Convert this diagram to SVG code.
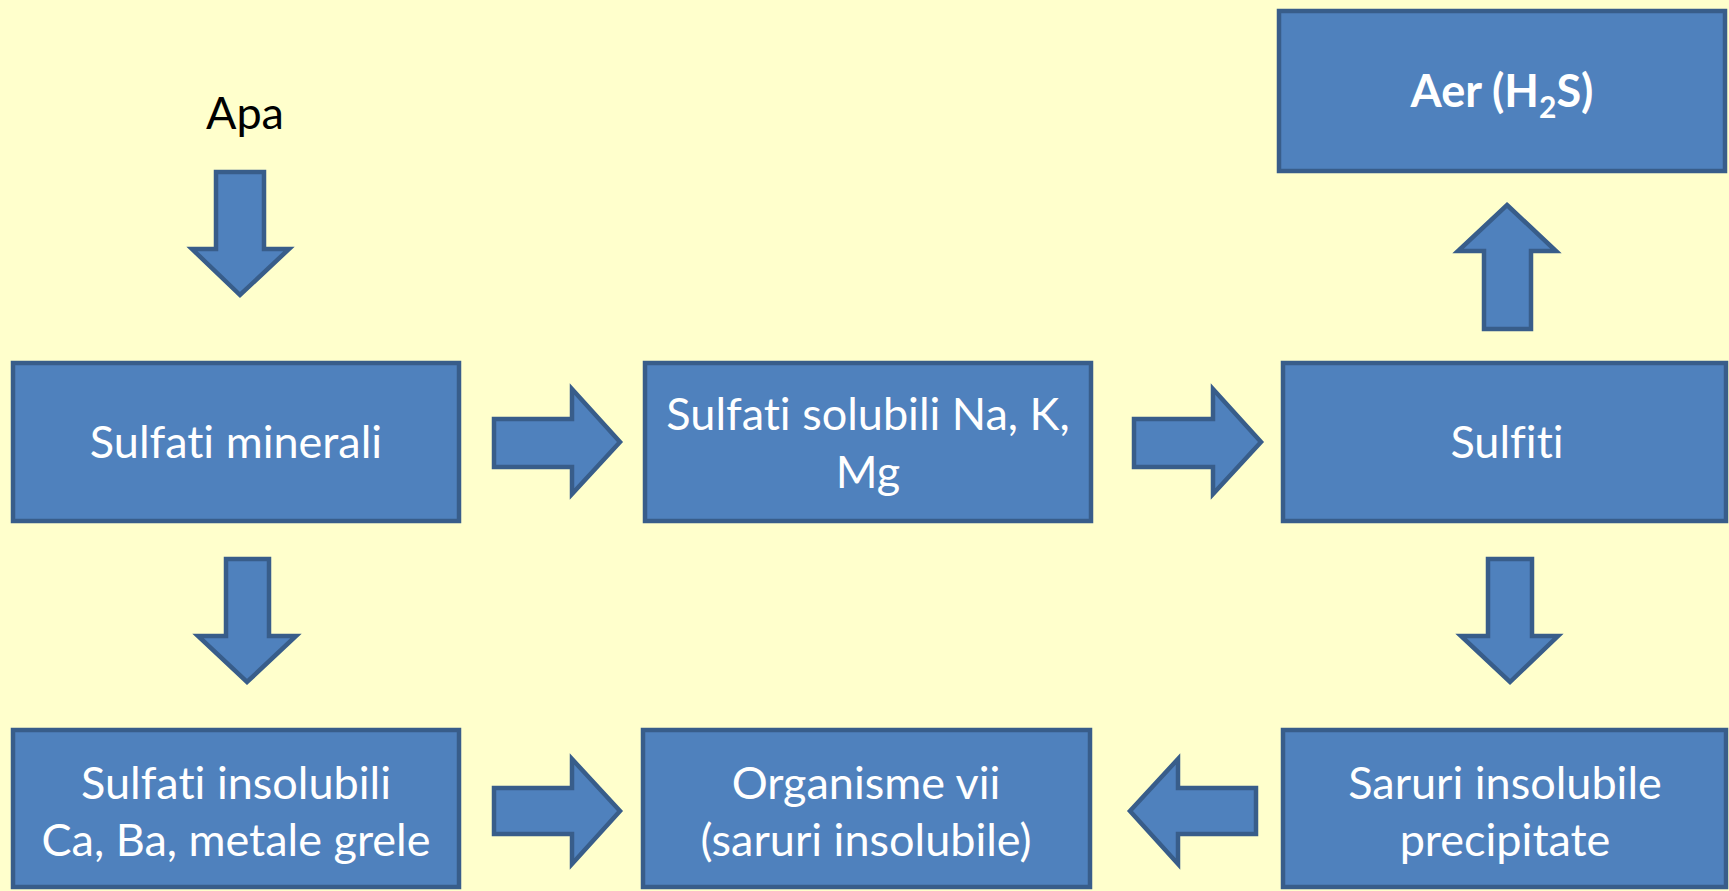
<svg xmlns="http://www.w3.org/2000/svg" width="1729" height="891" viewBox="0 0 1729 891">
<style>
.box{fill:#4F81BD;stroke:#385D8A;stroke-width:4.5}
.arr{fill:#4F81BD;stroke:#385D8A;stroke-width:4.5;stroke-linejoin:miter}
.t{font-family:Lato,"Open Sans","Liberation Sans",sans-serif;font-size:45px;fill:#FFFFFF;text-anchor:middle;font-variant-ligatures:none}
.b{font-weight:bold}
.k{font-family:Lato,"Open Sans","Liberation Sans",sans-serif;font-size:45px;fill:#000000;text-anchor:middle}
</style>
<rect x="0" y="0" width="1729" height="891" fill="#FFFFCC"/>
<g id="connectors">
<polygon class="arr" points="216,172 264,172 264,249 289,249 240,295 192,249 216,249"/>
<polygon class="arr" points="226,559 269,559 269,636 296,636 247,682 198,636 226,636"/>
<polygon class="arr" points="1488,559 1532,559 1532,636 1558,636 1510,682 1461,636 1488,636"/>
<polygon class="arr" points="1507,205 1556,251 1531,251 1531,329 1484,329 1484,251 1458,251"/>
<polygon class="arr" points="494,419 572,419 572,389 620,442 572,494 572,467 494,467"/>
<polygon class="arr" points="1134,419 1213,419 1213,389 1261,442 1213,494 1213,467 1134,467"/>
<polygon class="arr" points="494,788 572,788 572,759 620,811 572,864 572,834 494,834"/>
<polygon class="arr" points="1256,788 1178,788 1178,759 1130,811 1178,864 1178,834 1256,834"/>
</g>
<g id="apa"><text class="k" x="245" y="129">Apa</text></g>
<g id="aer">
<rect class="box" x="1279" y="11" width="446" height="160"/>
<text class="t b" x="1502" y="107">Aer (H<tspan font-size="30" dy="11">2</tspan><tspan dy="-11">S)</tspan></text>
</g>
<g id="sulfati-minerali">
<rect class="box" x="13" y="363" width="446" height="158"/>
<text class="t" x="236" y="458">Sulfati minerali</text>
</g>
<g id="sulfati-solubili">
<rect class="box" x="645" y="363" width="446" height="158"/>
<text class="t" x="868" y="430">Sulfati solubili Na, K,</text>
<text class="t" x="868" y="488">Mg</text>
</g>
<g id="sulfiti">
<rect class="box" x="1283" y="363" width="443" height="158"/>
<text class="t" x="1507" y="458">Sulfiti</text>
</g>
<g id="sulfati-insolubili">
<rect class="box" x="13" y="730" width="446" height="157"/>
<text class="t" x="236" y="799">Sulfati insolubili</text>
<text class="t" x="236" y="856">Ca, Ba, metale grele</text>
</g>
<g id="organisme">
<rect class="box" x="643" y="730" width="447" height="157"/>
<text class="t" x="866" y="799">Organisme vii</text>
<text class="t" x="866" y="856">(saruri insolubile)</text>
</g>
<g id="saruri">
<rect class="box" x="1283" y="730" width="443" height="157"/>
<text class="t" x="1505" y="799">Saruri insolubile</text>
<text class="t" x="1505" y="856">precipitate</text>
</g>
</svg>
